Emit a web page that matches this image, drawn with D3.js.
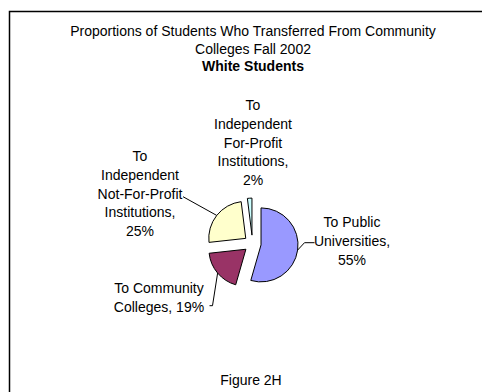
<!DOCTYPE html>
<html><head><meta charset="utf-8">
<script src="https://cdn.jsdelivr.net/npm/d3@7"></script>
<style>
html,body{margin:0;padding:0;background:#fff;}
text{font-family:"Liberation Sans",Arial,sans-serif;fill:#000;}
</style></head>
<body>
<script>
const categories = ["To Public Universities", "To Community Colleges", "To Independent Not-For-Profit Institutions", "To Independent For-Profit Institutions"];
const values = [55, 19, 25, 2];
const colors = ["#9999FF", "#993366", "#FFFFCC", "#CCFFFF"];
const labelLines = [
  ["To Public", "Universities,", "55%"],
  ["To Community", "Colleges, 19%"],
  ["To", "Independent", "Not-For-Profit", "Institutions,", "25%"],
  ["To", "Independent", "For-Profit", "Institutions,", "2%"]
];
const titleLines = ["Proportions of Students Who Transferred From Community", "Colleges Fall 2002"];
const subtitle = "White Students";
const caption = "Figure 2H";

const W = 482, H = 392;
const svg = d3.select("body").append("svg").attr("width", W).attr("height", H);

// frame (top and left edges visible)
svg.append("rect").attr("x", 9.5).attr("y", 11.5).attr("width", 490).attr("height", 400)
  .attr("fill", "none").attr("stroke", "#000").attr("stroke-width", 1.5);

const fs = 14;
svg.selectAll("text.title").data(titleLines).join("text")
  .attr("class", "title").attr("x", 253).attr("y", (d, i) => 36 + i * 17.5)
  .attr("text-anchor", "middle").style("font-size", fs + "px").text(d => d);
svg.append("text").attr("x", 253).attr("y", 71).attr("text-anchor", "middle")
  .style("font-size", fs + "px").style("font-weight", "bold").text(subtitle);
svg.append("text").attr("x", 251).attr("y", 385).attr("text-anchor", "middle")
  .style("font-size", fs + "px").text(caption);

const cx = 252.5, cy = 243.7, r = 37, explode = 8.6;
const pie = d3.pie().sort(null).startAngle(0).endAngle(2 * Math.PI)(values);
const arc = d3.arc().innerRadius(0).outerRadius(r);
const g = svg.append("g").attr("transform", `translate(${cx},${cy})`);

function off(d, k) {
  const a = (d.startAngle + d.endAngle) / 2;
  return [Math.sin(a) * k, -Math.cos(a) * k];
}

g.selectAll("path.slice").data(pie).join("path")
  .attr("class", "slice")
  .attr("transform", d => { const o = off(d, explode); return `translate(${o[0]},${o[1]})`; })
  .attr("d", arc).attr("fill", (d, i) => colors[i])
  .attr("stroke", "#000").attr("stroke-width", 1);

// label anchor positions relative to pie center (center x, first baseline)
const labelPos = [
  [99.5, -16.7],
  [-93.5, 49.3],
  [-112.5, -82.7],
  [0.5, -133.7]
];
const lh = 18.8;
labelLines.forEach((lines, i) => {
  const t = g.append("text").attr("text-anchor", "middle").style("font-size", fs + "px");
  lines.forEach((s, j) => {
    t.append("tspan").attr("x", labelPos[i][0]).attr("y", labelPos[i][1] + j * lh).text(s);
  });
});

// leader lines: from slice edge at mid-angle to label
const leaders = [
  { i: 0, pts: [[52, -1], [62, -1]] },
  { i: 1, pts: [[-40, 62], [-43, 62]] },
  { i: 2, pts: [[-69.5, -47]] }
];
leaders.forEach(L => {
  const d = pie[L.i];
  const o = off(d, explode);
  const e = off(d, r);
  const start = [o[0] + e[0], o[1] + e[1]];
  const pts = [start].concat(L.pts);
  g.append("path").attr("d", d3.line()(pts)).attr("fill", "none")
    .attr("stroke", "#000").attr("stroke-width", 1);
});
</script>
</body></html>
